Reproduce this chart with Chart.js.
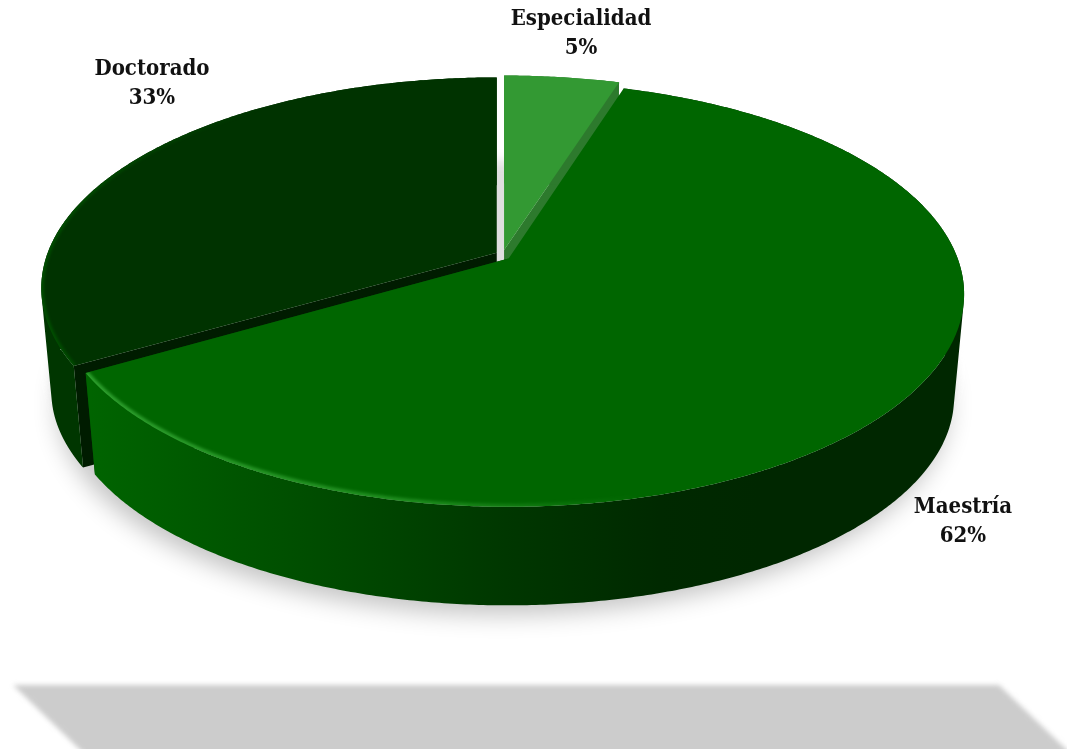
<!DOCTYPE html>
<html>
<head>
<meta charset="utf-8">
<title>Nivel de estudios</title>
<script src="https://cdn.jsdelivr.net/npm/chart.js@4"></script>
<style>
    html, body { margin: 0; padding: 0; background: #fff; }
    #wrap { width: 1067px; height: 749px; }
</style>
</head>
<body>
<div id="wrap"><canvas id="chart" width="1067" height="749"></canvas></div>
<script>
const categories = ['Especialidad', 'Maestría', 'Doctorado'];
const shares = [4.8, 61.7, 33.45];

const topColors = ['#339933', '#006600', '#003300'];
const radialWallColors = ['#2d7a2d', '#004400', '#001c00'];
const labelAnchors = [[581, 19], [963, 507], [152, 69]];

// projection of the pie disk onto the page (slight perspective)
const view = { cx: 503, cy: 255.2, rx: 449, ry: 205.5, k: 0.168, drop: 104, shrink: 0.978, explodeX: 0.016, explodeY: 0.025 };

function project(mid, angle, r, h) {
    const x = r * Math.sin(angle);
    const y = -r * Math.cos(angle);
    const w = 1 - view.k * y;
    const s = 1 + (view.shrink - 1) * h;
    return [
        view.cx + s * view.rx * x / w + view.explodeX * view.rx * Math.sin(mid),
        view.cy + view.drop * h + s * view.ry * y / w - view.explodeY * view.ry * Math.cos(mid) / (w * w)
    ];
}

function rimPoints(arc, h) {
    const pts = [];
    const n = Math.max(2, Math.ceil((arc.end - arc.start) * 120));
    for (let i = 0; i <= n; i++) {
        pts.push(project(arc.mid, arc.start + (arc.end - arc.start) * i / n, 1, h));
    }
    return pts;
}

function trace(ctx, pts, close) {
    ctx.beginPath();
    pts.forEach((p, i) => (i ? ctx.lineTo(p[0], p[1]) : ctx.moveTo(p[0], p[1])));
    if (close) ctx.closePath();
}

function arcsOf(chart) {
    return chart.getDatasetMeta(0).data.map((el, i) => {
        const start = el.startAngle + Math.PI / 2;
        const end = el.endAngle + Math.PI / 2;
        return { index: i, start, end, mid: (start + end) / 2 };
    });
}

function drawFloor(ctx) {
    ctx.save();
    ctx.filter = 'blur(2.5px)';
    ctx.fillStyle = '#cccccc';
    ctx.beginPath();
    ctx.moveTo(13, 685);
    ctx.lineTo(999, 685);
    ctx.lineTo(1090, 772);
    ctx.lineTo(103, 772);
    ctx.closePath();
    ctx.fill();
    ctx.restore();
}

function drawShadow(ctx) {
    const whole = { start: 0, end: Math.PI * 2, mid: Math.PI };
    ctx.save();
    ctx.shadowColor = 'rgba(0,0,0,0.24)';
    ctx.shadowBlur = 24;
    ctx.shadowOffsetX = 3000;
    ctx.shadowOffsetY = 6;
    ctx.translate(-3000, 0);
    ctx.fillStyle = '#000';
    trace(ctx, rimPoints(whole, 1), true);
    ctx.fill();
    ctx.restore();

    // only seen through the gap between the slices
    ctx.save();
    ctx.filter = 'blur(6px)';
    ctx.fillStyle = '#dfdfdf';
    trace(ctx, rimPoints(whole, 0.72), true);
    ctx.fill();
    ctx.restore();
}

function outerWallFill(ctx, arc) {
    if (arc.index === 1) {
        const g = ctx.createLinearGradient(90, 0, 760, 0);
        g.addColorStop(0, '#006400');
        g.addColorStop(0.3, '#004f00');
        g.addColorStop(0.62, '#003700');
        g.addColorStop(0.85, '#002900');
        g.addColorStop(1, '#002700');
        return g;
    }
    if (arc.index === 2) return '#003600';
    return '#2d7a2d';
}

function addQuad(ctx, a, b, c, d) {
    // same winding for all, so that one fill makes a seamless union
    const area = (b[0] - a[0]) * (c[1] - a[1]) - (b[1] - a[1]) * (c[0] - a[0]);
    const pts = area < 0 ? [d, c, b, a] : [a, b, c, d];
    pts.forEach((p, i) => (i ? ctx.lineTo(p[0], p[1]) : ctx.moveTo(p[0], p[1])));
    ctx.closePath();
}

function drawSlice(ctx, arc) {
    const i = arc.index;
    const top = rimPoints(arc, 0);
    const bottom = rimPoints(arc, 1);
    const apexTop = project(arc.mid, 0, 0, 0);
    const apexBottom = project(arc.mid, 0, 0, 1);

    // the radial wall that faces the viewer
    const wall = i === 2 ? arc.start : arc.end;
    trace(ctx, [apexTop, project(arc.mid, wall, 1, 0), project(arc.mid, wall, 1, 1), apexBottom], true);
    ctx.fillStyle = radialWallColors[i];
    ctx.fill();

    // outer wall: the silhouette is not just the two rims
    ctx.beginPath();
    for (let n = 0; n < top.length - 1; n++) {
        addQuad(ctx, top[n], top[n + 1], bottom[n + 1], bottom[n]);
    }
    ctx.fillStyle = outerWallFill(ctx, arc);
    ctx.fill();

    trace(ctx, top.concat([apexTop]), true);
    ctx.fillStyle = topColors[i];
    ctx.fill();
}

function drawBevel(ctx, arc) {
    if (arc.index === 0) return;
    const rim = rimPoints(arc, 0);
    ctx.save();
    trace(ctx, rim.concat([project(arc.mid, 0, 0, 0)]), true);
    ctx.clip();
    trace(ctx, rim, false);
    ctx.lineJoin = 'round';
    ctx.filter = 'blur(1.5px)';
    if (arc.index === 1) {
        const g = ctx.createLinearGradient(90, 0, 640, 0);
        g.addColorStop(0, 'rgba(50,165,50,0.9)');
        g.addColorStop(0.6, 'rgba(50,165,50,0.6)');
        g.addColorStop(1, 'rgba(50,165,50,0)');
        ctx.strokeStyle = g;
        ctx.lineWidth = 6;
    } else {
        const g = ctx.createLinearGradient(40, 0, 260, 0);
        g.addColorStop(0, 'rgba(0,110,0,0.5)');
        g.addColorStop(1, 'rgba(0,110,0,0)');
        ctx.strokeStyle = g;
        ctx.lineWidth = 5;
    }
    ctx.stroke();
    ctx.restore();
}

function drawLabels(ctx) {
    const total = shares.reduce((a, b) => a + b, 0);
    ctx.save();
    ctx.fillStyle = '#111';
    ctx.textAlign = 'center';
    ctx.textBaseline = 'middle';
    ctx.font = 'bold 22px "DejaVu Serif Condensed", "DejaVu Serif"';
    categories.forEach((name, i) => {
        const [x, y] = labelAnchors[i];
        ctx.fillText(name, x, y);
        ctx.fillText(Math.round(shares[i] / total * 100) + '%', x, y + 29);
    });
    ctx.restore();
}

const pie3d = {
    id: 'pie3d',
    beforeDatasetsDraw(chart) {
        const ctx = chart.ctx;
        const arcs = arcsOf(chart);
        drawFloor(ctx);
        drawShadow(ctx);
        // back to front
        [arcs[0], arcs[2], arcs[1]].forEach(arc => {
            drawSlice(ctx, arc);
            drawBevel(ctx, arc);
        });
        drawLabels(ctx);
        return false;
    }
};

new Chart(document.getElementById('chart'), {
    type: 'pie',
    data: {
        labels: categories,
        datasets: [{ data: shares, backgroundColor: topColors, borderWidth: 0 }]
    },
    options: {
        responsive: false,
        animation: false,
        events: [],
        plugins: { legend: { display: false }, tooltip: { enabled: false } }
    },
    plugins: [pie3d]
});
</script>
</body>
</html>
